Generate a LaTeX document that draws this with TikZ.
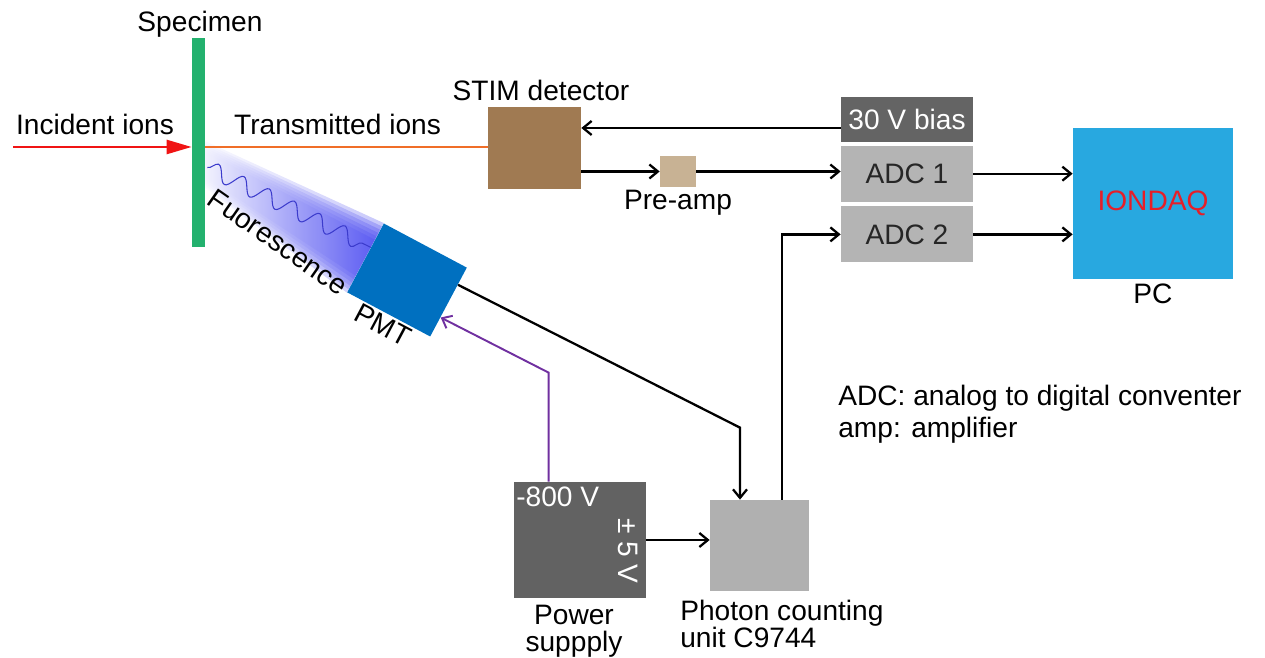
\documentclass[tikz,border=0pt]{standalone}
\usepackage{fontspec}
\setmainfont{Liberation Sans}
\usetikzlibrary{positioning, arrows.meta, calc, decorations.pathmorphing, backgrounds}
\definecolor{specgreen}{RGB}{35,177,110}
\definecolor{stimbrown}{RGB}{160,122,82}
\definecolor{preamptan}{RGB}{200,178,148}
\definecolor{biasgray}{RGB}{100,100,100}
\definecolor{adcgray}{RGB}{180,180,180}
\definecolor{pcblue}{RGB}{40,168,224}
\definecolor{iondaqred}{RGB}{230,30,40}
\definecolor{pmtblue}{RGB}{0,112,192}
\definecolor{psgray}{RGB}{98,98,98}
\definecolor{pcugray}{RGB}{176,176,176}
\definecolor{beamblue}{RGB}{70,70,240}
\definecolor{ionorange}{RGB}{240,110,40}
\definecolor{hvpurple}{RGB}{112,48,160}
\definecolor{ionred}{RGB}{240,20,20}

\begin{document}
\begin{tikzpicture}[
    x=0.02cm, y=0.02cm,
    box/.style={rectangle, inner sep=0pt, align=center, font=\fontsize{16}{16}\selectfont},
    lbl/.style={inner sep=0pt, font=\fontsize{16}{15.5}\selectfont},
    arr/.style={-{Straight Barb[length=1.7mm, width=2.8mm]}, line width=1.3pt}
]
    \useasboundingbox (0,0) rectangle (1265,658);

    \node[box, fill=specgreen, minimum width=0.26cm, minimum height=4.18cm] (spec) at (198.5,515.5) {};
    \node[lbl, anchor=base] (speclbl) at (200,626) {Specimen};

    \node[box, fill=stimbrown, minimum width=1.86cm, minimum height=1.64cm] (stim) at (534.5,510) {};
    \node[lbl, anchor=base] (stimlbl) at (541,557) {STIM detector};
    \node[box, fill=preamptan, minimum width=0.72cm, minimum height=0.62cm] (preamp) at (678,486.5) {};
    \node[lbl, below=0.04cm of preamp] (preamplbl) {Pre-amp};

    \node[box, fill=biasgray, text=white, minimum width=2.64cm, minimum height=0.9cm] (bias) at (907,538.5) {30 V bias};
    \node[box, fill=adcgray, text=black!85, minimum width=2.64cm, minimum height=1.12cm] (adc1) [below=0.06cm of bias] {ADC 1};
    \node[box, fill=adcgray, text=black!85, minimum width=2.64cm, minimum height=1.12cm] (adc2) [below=0.08cm of adc1] {ADC 2};

    \node[box, fill=pcblue, text=iondaqred, minimum width=3.2cm, minimum height=3.02cm] (pc) at (1153,454.5) {IONDAQ};
    \node[lbl, below=0.08cm of pc] (pclbl) {PC};

    \node[box, fill=pmtblue, minimum width=1.88cm, minimum height=1.56cm, rotate=-28] (pmt) at (407,378) {};
    \node[lbl, rotate=-28] (pmtlbl) at (383,333) {PMT};
    \node[lbl, rotate=-35] (fluolbl) at (278,416) {Fuorescence};

    \node[box, fill=psgray, minimum width=2.64cm, minimum height=2.32cm] (power) at (580,118) {};
    \node[lbl, text=white, anchor=base west] (psneg) at (516,151) {-800 V};
    \node[lbl, text=white, rotate=-90] (pspos) at (628,107) {± 5 V};
    \node[lbl, align=center, anchor=north] (pslbl) at (574,53) {Power\\suppply};

    \node[box, fill=pcugray, minimum width=1.98cm, minimum height=1.82cm] (pcu) at (759.5,112.5) {};
    \node[lbl, align=left, anchor=north west] (pculbl) at (680,58) {Photon counting\\unit C9744};

    \node[lbl, align=left, anchor=north west, font=\fontsize{16}{18}\selectfont] (legend) at (838,273) {ADC: analog to digital conventer\\amp: amplifier};

    \begin{scope}[on background layer]
        \foreach \d in {0,4,8,12,16,20}
            \shade[left color=beamblue!5, right color=beamblue, opacity=0.3]
                ($(spec.east)+(-6,4-0.5*\d)$) -- ($(pmt.north west)!{\d*0.012}!(pmt.south west)$)
                -- ($(pmt.south west)!{\d*0.012}!(pmt.north west)$) -- ($(spec.east)+(-6,-41+0.5*\d)$) -- cycle;
        \draw[beamblue!85!black, line width=0.6pt, decorate, decoration={snake, amplitude=4.5pt, segment length=16pt}] ($(spec.east)+(2,-25)$) -- ($(pmt.north west)!0.35!(pmt.south west)$);
    \end{scope}

    \coordinate (inc) at (13,511);
    \draw[ionred, line width=1.4pt, -{Triangle[length=5mm, width=2.8mm]}] (inc) -- (spec.west |- inc);
    \node[lbl, anchor=base] (inclbl) at (95,523) {Incident ions};
    \draw[ionorange, line width=1.3pt] (spec.east |- inc) -- (stim.west |- inc);
    \node[lbl, anchor=base] (translbl) at (337.5,523) {Transmitted ions};

    \coordinate (biasin) at ($(bias.west)+(0,-8.5)$);
    \draw[arr] (biasin) -- (biasin -| stim.east);
    \draw[arr] (stim.east |- preamp) -- (preamp.west);
    \draw[arr] (preamp.east) -- (preamp -| adc1.west);
    \draw[arr] (adc1.east) -- (adc1 -| pc.west);
    \draw[arr] (adc2.east) -- (adc2 -| pc.west);
    \draw[arr] ($(pcu.north)+(22.5,0)$) |- (adc2.west);

    \coordinate (pmtout) at ($(pmt.north east)!0.25!(pmt.south east)$);
    \coordinate (pcuin) at ($(pcu.north)+(-19.5,0)$);
    \draw[arr] (pmtout) -- ($(pcuin)+(0,72)$) -- (pcuin);
    \draw[arr] (power.east) -- (power.east -| pcu.west);

    \coordinate (psout) at ($(power.north west)+(35,0)$);
    \draw[arr, hvpurple, line width=1.1pt] (psout) -- ++(0,109) -- ($(pmt.north east)!0.72!(pmt.south east)$);
\end{tikzpicture}
\end{document}
